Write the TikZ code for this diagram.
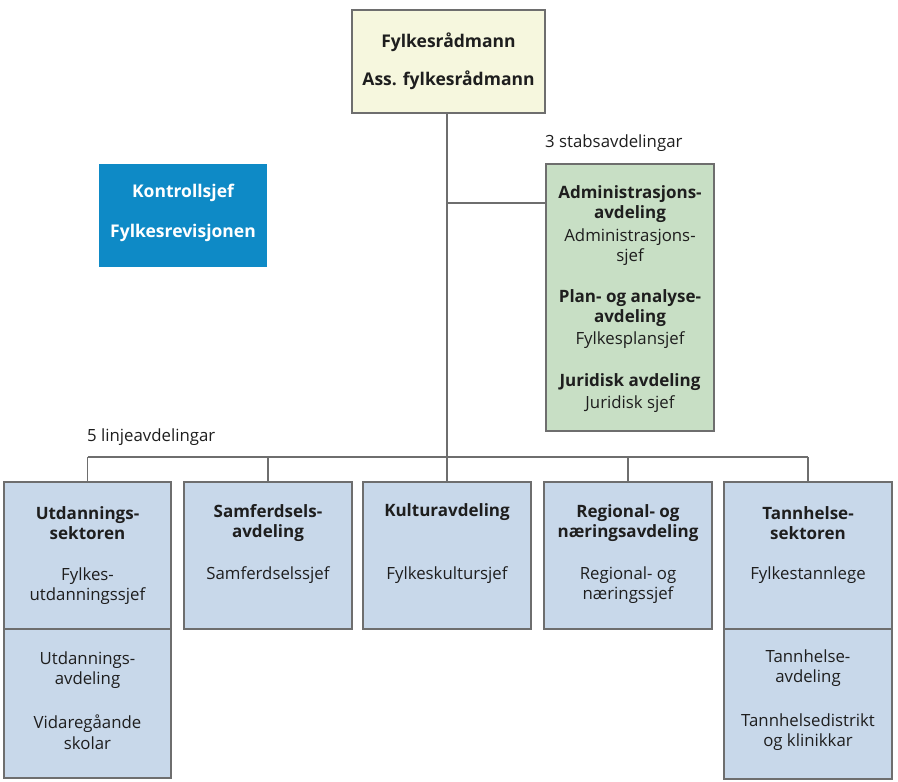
\documentclass[tikz,border=0pt]{standalone}
\usepackage{fontspec}
\setmainfont{Open Sans}
\definecolor{linegray}{HTML}{6E6E6E}
\definecolor{topfill}{HTML}{F6F7DE}
\definecolor{kblue}{HTML}{0E8AC6}
\definecolor{gfill}{HTML}{C8DFC5}
\definecolor{bfill}{HTML}{C8D8EA}
\definecolor{txt}{HTML}{1E1E1E}
\begin{document}
\begin{tikzpicture}[x=1pt,y=-1pt,
  box/.style={draw=linegray,line width=1.2pt,inner sep=0pt,anchor=center},
  conn/.style={draw=linegray,line width=1.6pt},
  bt/.style={font=\fontsize{17}{20}\selectfont\bfseries,text=txt,align=center,inner sep=0pt},
  rt/.style={font=\fontsize{16.8}{20.5}\selectfont,text=txt,align=center,inner sep=0pt},
  lbl/.style={font=\fontsize{16.8}{20}\selectfont,text=txt,inner sep=0pt,anchor=west}]
\useasboundingbox (0,0) rectangle (898,782);
% top
\node[box,fill=topfill,minimum width=193pt,minimum height=103pt] (top) at (448.5,61.5) {};
\node[bt,font=\fontsize{17.5}{20}\selectfont\bfseries] (t1) at (448.5,42) {Fylkesrådmann};
\node[bt,font=\fontsize{17.5}{20}\selectfont\bfseries] (t2) at (448.5,80) {Ass. fylkesrådmann};
% control
\node[fill=kblue,inner sep=0pt,minimum width=168pt,minimum height=103pt] (kon) at (183,215.5) {};
\node[bt,text=white,font=\fontsize{17.5}{20}\selectfont\bfseries] (k1) at (183,193) {Kontrollsjef};
\node[bt,text=white,font=\fontsize{17.5}{20}\selectfont\bfseries] (k2) at (183,233) {Fylkesrevisjonen};
% staff
\node[lbl] (stab) at (545,143) {3 stabsavdelingar};
\node[box,fill=gfill,minimum width=168pt,minimum height=267pt] (green) at (630,297.5) {};
\node[bt] (g1) at (630,204) {Administrasjons-\\avdeling};
\node[rt] (g2) at (630,247) {Administrasjons-\\sjef};
\node[bt] (g3) at (630,308) {Plan- og analyse-\\avdeling};
\node[rt] (g4) at (630,340) {Fylkesplansjef};
\node[bt] (g5) at (630,382) {Juridisk avdeling};
\node[rt] (g6) at (630,404) {Juridisk sjef};
% line departments
\node[lbl] (linje) at (87,437) {5 linjeavdelingar};
\node[box,fill=bfill,minimum width=167pt,minimum height=147pt] (utd) at (87.5,555.5) {};
\node[box,fill=bfill,minimum width=167pt,minimum height=149pt] (utdB) at (87.5,703.5) {};
\node[box,fill=bfill,minimum width=168pt,minimum height=147pt] (sam) at (268,555.5) {};
\node[box,fill=bfill,minimum width=168pt,minimum height=147pt] (kul) at (447,555.5) {};
\node[box,fill=bfill,minimum width=168pt,minimum height=147pt] (reg) at (628,555.5) {};
\node[box,fill=bfill,minimum width=168pt,minimum height=147pt] (tan) at (808,555.5) {};
\node[box,fill=bfill,minimum width=168pt,minimum height=150pt] (tanB) at (808,704) {};
\node[bt] (u1) at (87.5,523) {Utdannings-\\sektoren};
\node[rt] (u2) at (87.5,586) {Fylkes-\\utdanningssjef};
\node[rt] (u3) at (87.5,670) {Utdannings-\\avdeling};
\node[rt] (u4) at (87.5,732) {Vidaregåande\\skolar};
\node[bt] (s1) at (268,523) {Samferdsels-\\avdeling};
\node[rt] (s2) at (268,575) {Samferdselssjef};
\node[bt] (c1) at (447,512) {Kulturavdeling};
\node[rt] (c2) at (447,575) {Fylkeskultursjef};
\node[bt] (r1) at (628,523) {Regional- og\\næringsavdeling};
\node[rt] (r2) at (628,585) {Regional- og\\næringssjef};
\node[bt] (a1) at (808,523) {Tannhelse-\\sektoren};
\node[rt] (a2) at (808,575) {Fylkestannlege};
\node[rt] (a3) at (808,668) {Tannhelse-\\avdeling};
\node[rt] (a4) at (808,732) {Tannhelsedistrikt\\og klinikkar};
% connectors
\coordinate (busM) at (447,457);
\coordinate (busL) at (87.5,457);
\coordinate (busR) at (808,457);
\coordinate (junc) at (447,203);
\draw[conn] (top.south -| busM) -- (busM);
\draw[conn] (junc) -- (green.west |- junc);
\draw[conn] (busL) -- (busR);
\draw[conn] (busL) -- (utd.north);
\draw[conn] (sam.north |- busL) -- (sam.north);
\draw[conn] (busM) -- (kul.north);
\draw[conn] (reg.north |- busL) -- (reg.north);
\draw[conn] (busR) -- (tan.north);
\end{tikzpicture}
\end{document}
